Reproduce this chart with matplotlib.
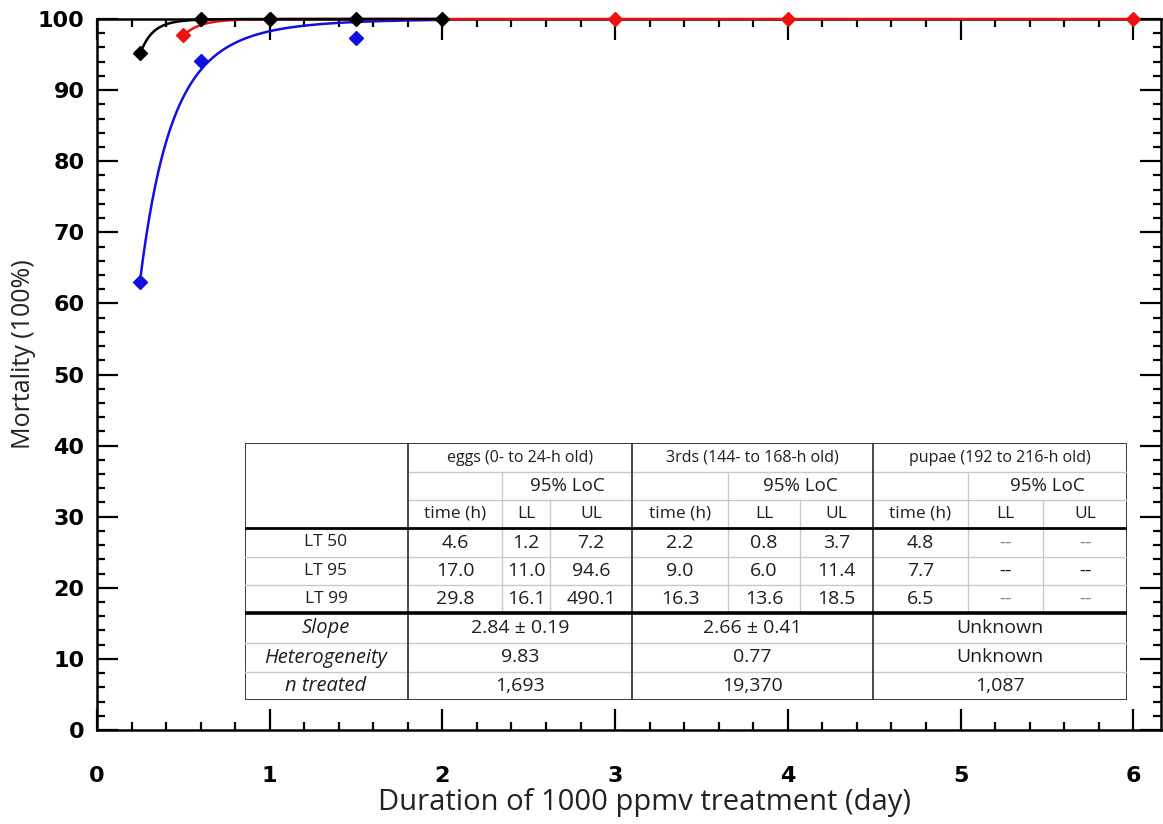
import math
import matplotlib
matplotlib.use("Agg")
import matplotlib.pyplot as plt
import numpy as np

# observed mortality (%) against treatment duration (day)
days_3rds = [0.25, 0.6, 1.0, 1.5, 2.0]
mort_3rds = [95.2, 100, 100, 100, 100]
days_pupae = [0.5, 1.0, 3.0, 4.0, 6.0]
mort_pupae = [97.8, 100, 100, 100, 100]
days_eggs = [0.25, 0.6, 1.5]
mort_eggs = [63.0, 94.1, 97.3]

# probit fits: (LT50 in hours, slope per log10 hour, first day, last day)
fit_3rds = (2.2, 3.8, 0.25, 2.0)
fit_pupae = (4.8, 5.0, 0.5, 6.0)
fit_eggs = (4.6, 2.95, 0.25, 2.0)

# table contents
groups = ["eggs (0- to 24-h old)", "3rds (144- to 168-h old)", "pupae (192 to 216-h old)"]
lt_labels = ["LT 50", "LT 95", "LT 99"]
lt_eggs = [["4.6", "1.2", "7.2"], ["17.0", "11.0", "94.6"], ["29.8", "16.1", "490.1"]]
lt_3rds = [["2.2", "0.8", "3.7"], ["9.0", "6.0", "11.4"], ["16.3", "13.6", "18.5"]]
lt_pupae = [["4.8", "--", "--"], ["7.7", "--", "--"], ["6.5", "--", "--"]]
stat_labels = ["Slope", "Heterogeneity", "n treated"]
slope = ["2.84 \u00b1 0.19", "2.66 \u00b1 0.41", "Unknown"]
heterogeneity = ["9.83", "0.77", "Unknown"]
n_treated = ["1,693", "19,370", "1,087"]


def probit_curve(fit):
    lt50, b, t0, t1 = fit
    t = np.linspace(t0, t1, 300)
    z = b * (np.log10(t * 24.0) - math.log10(lt50))
    y = np.array([50.0 * (1.0 + math.erf(v / math.sqrt(2.0))) for v in z])
    return t, y


fig = plt.figure(figsize=(11.63, 8.24), dpi=100)
W, H = 1163.0, 824.0
ax = fig.add_axes([97 / W, 1 - 730 / H, 1064 / W, 711 / H])

for fit, col in [(fit_eggs, "#1010e0"), (fit_pupae, "#ee1111"), (fit_3rds, "black")]:
    t, y = probit_curve(fit)
    ax.plot(t, y, color=col, lw=1.8, clip_on=False, zorder=3)

ax.plot(days_eggs, mort_eggs, "D", color="#1010e0", ms=7, clip_on=False, zorder=4)
ax.plot(days_pupae, mort_pupae, "D", color="#ee1111", ms=7, clip_on=False, zorder=4)
ax.plot(days_3rds, mort_3rds, "D", color="black", ms=7, clip_on=False, zorder=5)

ax.set_xlim(0, 1064 / 172.7)
ax.set_ylim(0, 100)
ax.set_xticks(np.arange(0, 7, 1))
ax.set_xticks(np.arange(0, 6.15, 0.2), minor=True)
ax.set_yticks(np.arange(0, 101, 10))
ax.set_yticks(np.arange(0, 101, 2), minor=True)
ax.tick_params(which="both", direction="in", top=True, right=True, width=1.6)
ax.tick_params(which="major", length=15)
ax.tick_params(which="minor", length=6)
ax.tick_params(axis="x", which="major", pad=26)
ax.tick_params(axis="y", which="major", pad=9)
for lab in ax.get_xticklabels() + ax.get_yticklabels():
    lab.set_fontfamily("DejaVu Sans")
    lab.set_fontweight("bold")
    lab.set_fontsize(16)
for s in ax.spines.values():
    s.set_linewidth(1.8)

ax.set_xlabel("Duration of 1000 ppmv treatment (day)", fontsize=21,
              family="Open Sans", color="#222222")
ax.xaxis.set_label_coords(0.515, -0.082)
ax.set_ylabel("Mortality (100%)", fontsize=18, family="Open Sans", color="#222222")
ax.yaxis.set_label_coords(-0.057, 0.529)

# ---- table drawn in its own axes (units ~ pixels) ----
tx = fig.add_axes([245 / W, 1 - 700 / H, 882 / W, 257 / H], zorder=10)
tx.set_xlim(0, 882)
tx.set_ylim(257, 0)
tx.axis("off")
tx.add_patch(plt.Rectangle((0, 0), 882, 257, facecolor="white", edgecolor="none"))

cols = [0, 163, 257, 305, 387, 483, 555, 628, 723, 798, 882]
rows = [0, 29, 57, 85, 114, 142, 170, 200, 229, 257]
dark, light = "#3a3a3a", "#c8c8c8"

# light inner lines
for y in [29, 57]:
    tx.plot([163, 882], [y, y], color=light, lw=1)
for y in [114, 142, 200, 229]:
    tx.plot([0, 882], [y, y], color=light, lw=1)
for g in range(3):
    tx.plot([cols[2 + 3 * g]] * 2, [29, 170], color=light, lw=1)
    tx.plot([cols[3 + 3 * g]] * 2, [57, 170], color=light, lw=1)
# dark lines
for x in [163, 387, 628]:
    tx.plot([x, x], [0, 257], color=dark, lw=1.3)
tx.plot([0, 882], [85, 85], color="black", lw=2)
tx.plot([0, 882], [170, 170], color="black", lw=2.6)
tx.add_patch(plt.Rectangle((0, 0), 882, 257, facecolor="none", edgecolor=dark, lw=1.4))

tc = "#1e1e1e"
fp = dict(family="Open Sans", color=tc, ha="center", va="center")


def mid(a, b):
    return 0.5 * (a + b)


lt_all = [lt_eggs, lt_3rds, lt_pupae]
for g in range(3):
    x0, x1, x2, x3 = cols[1 + 3 * g], cols[2 + 3 * g], cols[3 + 3 * g], cols[4 + 3 * g]
    tx.text(mid(x0, x3), mid(rows[0], rows[1]), groups[g], fontsize=11.5, **fp)
    tx.text(mid(x1, x3), mid(rows[1], rows[2]), "95% LoC", fontsize=13.5, **fp)
    for xa, xb, s in [(x0, x1, "time (h)"), (x1, x2, "LL"), (x2, x3, "UL")]:
        tx.text(mid(xa, xb), mid(rows[2], rows[3]), s, fontsize=12.5, **fp)
    for r in range(3):
        for k, (xa, xb) in enumerate([(x0, x1), (x1, x2), (x2, x3)]):
            val = lt_all[g][r][k]
            c = "#888888" if val == "--" and r != 1 else tc
            tx.text(mid(xa, xb), mid(rows[3 + r], rows[4 + r]), val, fontsize=14,
                    family="Open Sans", color=c, ha="center", va="center")
    for r, vals in enumerate([slope, heterogeneity, n_treated]):
        tx.text(mid(x0, x3), mid(rows[6 + r], rows[7 + r]), vals[g], fontsize=14, **fp)

for r in range(3):
    tx.text(81, mid(rows[3 + r], rows[4 + r]), lt_labels[r], fontsize=12.5, **fp)
    tx.text(81, mid(rows[6 + r], rows[7 + r]), stat_labels[r], fontsize=14.5,
            style="italic", **fp)

fig.savefig("out.png", dpi=100)
